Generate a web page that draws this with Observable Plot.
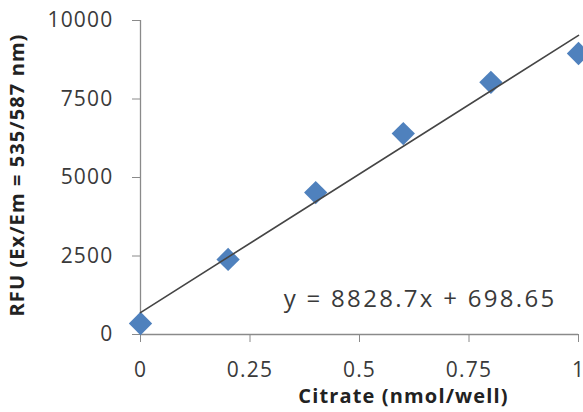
<!DOCTYPE html>
<html><head><meta charset="utf-8">
<script src="https://cdn.jsdelivr.net/npm/d3@7"></script>
<script src="https://cdn.jsdelivr.net/npm/@observablehq/plot@0.6"></script>
<style>body{margin:0;background:#fff;}</style>
</head><body><div id="chart"></div>
<script>
const citrate = [0, 0.2, 0.4, 0.6, 0.8, 1];
const rfu = [350, 2390, 4520, 6400, 8030, 8950];
const xTicks = [0, 0.25, 0.5, 0.75, 1];
const yTicks = [0, 2500, 5000, 7500, 10000];
const slope = 8828.7, intercept = 698.65;
const equationLabel = "y = 8828.7x + 698.65";
const xLabel = "Citrate (nmol/well)";
const yLabel = "RFU (Ex/Em = 535/587 nm)";

const points = citrate.map((x, i) => ({x, y: rfu[i]}));
const fit = [0, 1].map(x => ({x, y: slope * x + intercept}));
const axisColor = "#8a8a8a";
const textColor = "#3a3a3a";
const font = "'Open Sans', sans-serif";

const chart = Plot.plot({
  width: 583,
  height: 412,
  marginLeft: 140,
  marginRight: 5,
  marginTop: 20,
  marginBottom: 78,
  style: {fontFamily: font, fontSize: "21px", color: textColor, background: "#fff"},
  x: {domain: [0, 1]},
  y: {domain: [0, 10000]},
  marks: [
    Plot.ruleY([0], {stroke: axisColor, strokeWidth: 1.3}),
    Plot.ruleX([0], {stroke: axisColor, strokeWidth: 1.3}),
    Plot.axisX(xTicks, {ticks: xTicks, tickSize: 8, tickPadding: 20, stroke: axisColor, fill: textColor, fontSize: 21, label: null, tickFormat: d => String(d)}),
    Plot.axisY(yTicks, {ticks: yTicks, tickSize: 8, tickPadding: 19, stroke: axisColor, fill: textColor, fontSize: 21, label: null, tickFormat: d => String(d)}),
    Plot.dot(points, {x: "x", y: "y", symbol: "diamond2", r: 10.5, fill: "#4f81bd", stroke: "none"}),
    Plot.line(fit, {x: "x", y: "y", stroke: "#454545", strokeWidth: 1.6}),
    Plot.text([equationLabel], {frameAnchor: "bottom-right", textAnchor: "end", lineAnchor: "middle", dx: -22, dy: -35.5, fontSize: 24, fill: textColor}),
    Plot.text([xLabel], {frameAnchor: "bottom", textAnchor: "middle", lineAnchor: "middle", dx: 44, dy: 62.5, fontSize: 20, fontWeight: "bold", fill: "#222"}),
    Plot.text([yLabel], {frameAnchor: "left", textAnchor: "middle", lineAnchor: "middle", rotate: -90, dx: -123, dy: -2.5, fontSize: 20, fontWeight: "bold", fill: "#222"})
  ]
});
const tickStrings = new Set([...xTicks, ...yTicks].map(String));
d3.select(chart).selectAll("text").each(function() {
  const t = this.textContent;
  let ls = null;
  if (t === equationLabel) ls = 2.3;
  else if (t === xLabel) ls = 1.15;
  else if (t === yLabel) ls = 1.1;
  else if (tickStrings.has(t)) ls = 1.2;
  if (ls !== null) {
    this.setAttribute("letter-spacing", ls);
    this.style.letterSpacing = ls + "px";
  }
});
document.getElementById("chart").appendChild(chart);
</script>
</body></html>
